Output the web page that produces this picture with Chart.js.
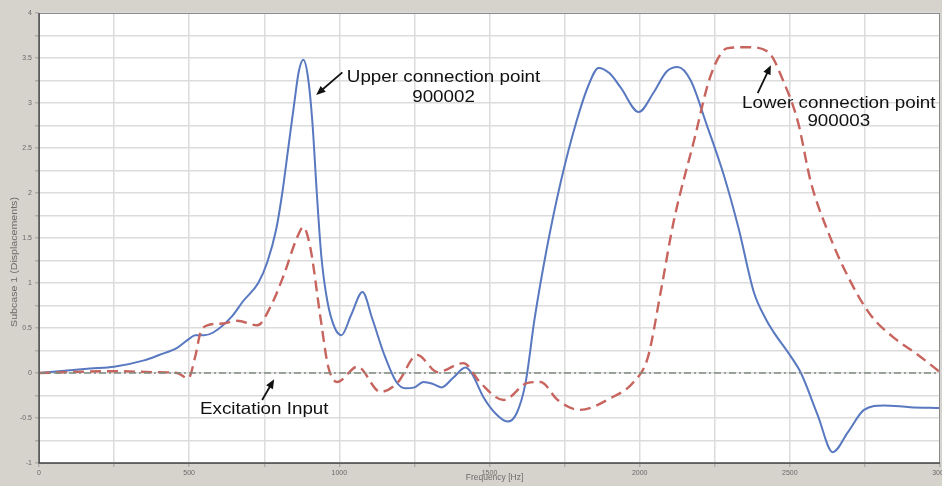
<!DOCTYPE html>
<html><head><meta charset="utf-8">
<script src="https://cdn.jsdelivr.net/npm/chart.js@4/dist/chart.umd.min.js"></script>
<style>html,body{margin:0;padding:0;background:#d6d3cd;}#wrap{width:942px;height:486px;}</style>
</head><body><div id="wrap"><canvas id="c" width="942" height="486"></canvas></div>
<script>
// Frequency axis (Hz) and value ticks
const xTicks = [0, 500, 1000, 1500, 2000, 2500, 3000];
const yTicks = [-1, -0.5, 0, 0.5, 1, 1.5, 2, 2.5, 3, 3.5, 4];

// Upper connection point 900002 (blue, solid)
const upperFreq = [0,170,250,350,400,460,500,520,550,580,640,680,730,760,790,810,830,850,865,880,895,910,925,940,960,985,1007,1040,1077,1110,1150,1190,1220,1250,1280,1310,1340,1380,1420,1440,1480,1520,1560,1590,1620,1650,1690,1737,1790,1830,1863,1900,1937,1997,2047,2090,2127,2170,2223,2280,2330,2380,2420,2445,2500,2537,2593,2643,2693,2747,2813,2900,3000];
const upperVal  = [0,0.05,0.07,0.14,0.2,0.28,0.38,0.42,0.42,0.45,0.62,0.8,1.0,1.23,1.6,2.0,2.5,3.0,3.35,3.48,3.3,2.8,2.0,1.3,0.8,0.5,0.42,0.65,0.9,0.6,0.2,-0.1,-0.17,-0.16,-0.1,-0.12,-0.16,-0.05,0.06,0.0,-0.27,-0.45,-0.54,-0.45,-0.11,0.6,1.37,2.12,2.8,3.2,3.39,3.33,3.17,2.9,3.12,3.35,3.4,3.25,2.76,2.2,1.6,0.9,0.6,0.46,0.2,0.0,-0.47,-0.88,-0.66,-0.41,-0.36,-0.38,-0.39];

// Lower connection point 900003 (red, dashed)
const lowerFreq = [0,250,380,460,497,520,537,560,613,660,727,770,813,860,880,903,937,963,993,1060,1137,1193,1260,1327,1413,1470,1547,1627,1670,1727,1800,1903,1980,2027,2070,2113,2180,2237,2293,2360,2427,2480,2527,2570,2627,2703,2770,2847,2927,3000];
const lowerVal  = [0,0.02,0.01,0.0,-0.06,0.18,0.44,0.53,0.55,0.58,0.53,0.73,1.07,1.51,1.62,1.4,0.62,0.07,-0.1,0.07,-0.21,-0.11,0.2,0.01,0.11,-0.11,-0.3,-0.11,-0.1,-0.3,-0.41,-0.28,-0.1,0.17,0.9,1.68,2.57,3.31,3.61,3.62,3.57,3.23,2.79,2.12,1.57,1.01,0.64,0.39,0.2,0.01];

// Excitation input
const excitationFreq = [0, 3000];
const excitationVal  = [0, 0];

const pts = (xs, ys) => xs.map((x, i) => ({x: x, y: ys[i]}));

const notes = [
  {lines: ['Upper connection point', '900002'], tx: 1347, ty: [3.28, 3.06], from: [1010, 3.34], to: [923, 3.09]},
  {lines: ['Lower connection point', '900003'], tx: 2663, ty: [2.99, 2.79], from: [2393, 3.11], to: [2437, 3.42]},
  {lines: ['Excitation Input'], tx: 750, ty: [-0.41], from: [743, -0.3], to: [783, -0.07]}
];

const bgPlugin = {
  id: 'bg',
  beforeDraw(chart) {
    const {ctx, chartArea: a} = chart;
    ctx.save();
    ctx.fillStyle = '#d6d3cd';
    ctx.fillRect(0, 0, chart.width, chart.height);
    ctx.fillStyle = '#ffffff';
    ctx.fillRect(a.left, a.top, a.right - a.left, a.bottom - a.top);
    ctx.restore();
  },
  afterDraw(chart) {
    const {ctx, chartArea: a} = chart;
    ctx.save();
    ctx.strokeStyle = '#8a8a8a';
    ctx.lineWidth = 1;
    ctx.strokeRect(a.left + 0.5, a.top + 0.5, a.right - a.left - 1, a.bottom - a.top);
    ctx.strokeStyle = '#505050';
    ctx.lineWidth = 1.5;
    ctx.beginPath();
    ctx.moveTo(a.left, a.top); ctx.lineTo(a.left, a.bottom); ctx.lineTo(a.right, a.bottom);
    ctx.stroke();
    // axis titles
    ctx.fillStyle = '#6a6a6a';
    ctx.font = '8.5px "Liberation Sans", Arial, sans-serif';
    ctx.textAlign = 'center';
    ctx.textBaseline = 'middle';
    ctx.fillText('Frequency [Hz]', (a.left + a.right) / 2 + 5, 478);
    ctx.translate(15, 262);
    ctx.rotate(-Math.PI / 2);
    ctx.scale(1.25, 1);
    ctx.fillText('Subcase 1 (Displacements)', 0, 0);
    ctx.restore();

    // annotations
    const xs = chart.scales.x, ys = chart.scales.y;
    ctx.save();
    ctx.fillStyle = '#111';
    ctx.strokeStyle = '#111';
    ctx.font = '16.5px "Liberation Sans", Arial, sans-serif';
    ctx.textAlign = 'center';
    ctx.textBaseline = 'middle';
    const sx = 1.14;
    notes.forEach(n => {
      n.lines.forEach((t, i) => {
        ctx.save();
        ctx.translate(xs.getPixelForValue(n.tx), ys.getPixelForValue(n.ty[i]));
        ctx.scale(sx, 1);
        ctx.fillText(t, 0, 0);
        ctx.restore();
      });
      const x1 = xs.getPixelForValue(n.from[0]), y1 = ys.getPixelForValue(n.from[1]);
      const x2 = xs.getPixelForValue(n.to[0]), y2 = ys.getPixelForValue(n.to[1]);
      const ang = Math.atan2(y2 - y1, x2 - x1);
      ctx.lineWidth = 1.8;
      ctx.beginPath(); ctx.moveTo(x1, y1);
      ctx.lineTo(x2 - 6 * Math.cos(ang), y2 - 6 * Math.sin(ang)); ctx.stroke();
      ctx.beginPath();
      ctx.moveTo(x2, y2);
      ctx.lineTo(x2 - 10 * Math.cos(ang - 0.4), y2 - 10 * Math.sin(ang - 0.4));
      ctx.lineTo(x2 - 10 * Math.cos(ang + 0.4), y2 - 10 * Math.sin(ang + 0.4));
      ctx.closePath(); ctx.fill();
    });
    ctx.restore();
  }
};

new Chart(document.getElementById('c'), {
  type: 'line',
  data: {
    datasets: [
      {label: 'Excitation Input', data: pts(excitationFreq, excitationVal), borderColor: '#7f8c80', borderWidth: 1.6, borderDash: [7, 3, 2, 3], pointRadius: 0, tension: 0},
      {label: 'Lower connection point 900003', data: pts(lowerFreq, lowerVal), borderColor: '#c8645e', borderWidth: 2.4, borderDash: [11, 6], pointRadius: 0, cubicInterpolationMode: 'monotone'},
      {label: 'Upper connection point 900002', data: pts(upperFreq, upperVal), borderColor: '#5878c0', borderWidth: 2, pointRadius: 0, cubicInterpolationMode: 'monotone'}
    ]
  },
  options: {
    responsive: false,
    animation: false,
    devicePixelRatio: 1,
    layout: {padding: {left: 0, right: 2, top: 13, bottom: 0}},
    plugins: {legend: {display: false}, tooltip: {enabled: false}},
    scales: {
      x: {
        type: 'linear', min: xTicks[0], max: xTicks[xTicks.length - 1],
        afterFit(s) { s.height = 23; s.paddingRight = 0; s.paddingLeft = 0; },
        ticks: {stepSize: 250, autoSkip: false, maxRotation: 0, padding: 2, color: '#6a6a6a', font: {size: 7, family: '"Liberation Sans", Arial'},
          callback: v => xTicks.includes(v) ? String(v) : ''},
        grid: {color: '#dcdcdc', lineWidth: 1.5, tickLength: 4, tickColor: '#b0b0b0'},
        border: {display: false}
      },
      y: {
        type: 'linear', min: yTicks[0], max: yTicks[yTicks.length - 1],
        afterFit(s) { s.width = 39; s.paddingTop = 0; s.paddingBottom = 0; },
        ticks: {stepSize: 0.25, autoSkip: false, padding: 3, color: '#6a6a6a', font: {size: 7, family: '"Liberation Sans", Arial'},
          callback: v => yTicks.includes(v) ? String(v) : ''},
        grid: {color: '#dcdcdc', lineWidth: 1.5, tickLength: 4, tickColor: '#b0b0b0'},
        border: {display: false}
      }
    }
  },
  plugins: [bgPlugin]
});
</script></body></html>
